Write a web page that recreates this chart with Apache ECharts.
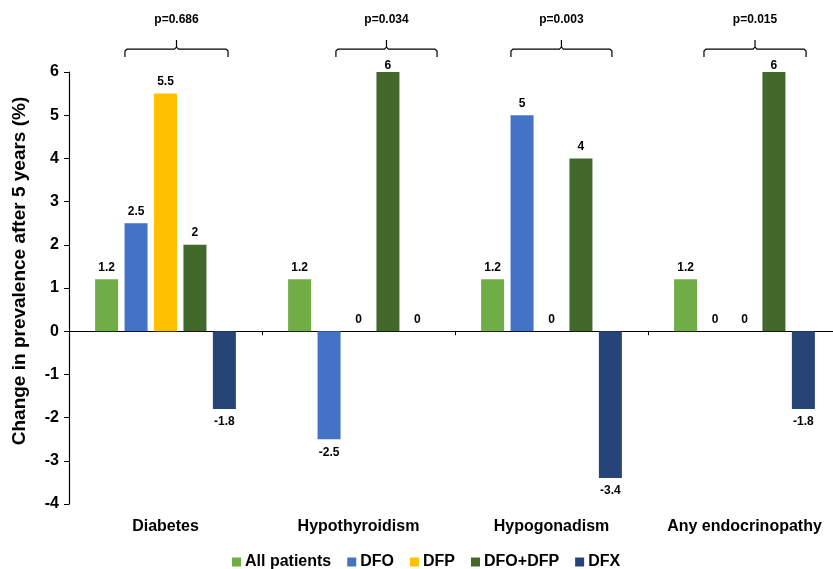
<!DOCTYPE html>
<html>
<head>
<meta charset="utf-8">
<script src="https://cdn.jsdelivr.net/npm/echarts@6/dist/echarts.min.js"></script>
<style>html,body{margin:0;padding:0;background:#fff}#c{width:833px;height:569px}</style>
</head>
<body>
<div id="c"></div>
<script>
const categories = ['Diabetes', 'Hypothyroidism', 'Hypogonadism', 'Any endocrinopathy'];
const seriesNames = ['All patients', 'DFO', 'DFP', 'DFO+DFP', 'DFX'];
const allPatients = [1.2, 1.2, 1.2, 1.2];
const dfo = [2.5, -2.5, 5, 0];
const dfp = [5.5, 0, 0, 0];
const dfoDfp = [2, 6, 4, 6];
const dfx = [-1.8, 0, -3.4, -1.8];
const pValues = ['p=0.686', 'p=0.034', 'p=0.003', 'p=0.015'];
const yTicks = [-4, -3, -2, -1, 0, 1, 2, 3, 4, 5, 6];

const colors = ['#70AD47', '#4472C4', '#FFC000', '#43682B', '#264478'];
const values = [allPatients, dfo, dfp, dfoDfp, dfx];
const FONT = '"Liberation Sans", Arial, sans-serif';
const yMax = yTicks[yTicks.length - 1];

// bracket extents relative to category centre, in category-width units (annotation styling)
const bracketLeft = [-0.21, -0.117, -0.21, -0.21];
const bracketRight = [0.324, 0.407, 0.313, 0.319];

const chart = echarts.init(document.getElementById('c'));

const barSeries = seriesNames.map((name, si) => ({
  name: name,
  type: 'bar',
  xAxisIndex: 0,
  barWidth: 23,
  barGap: '28%',
  itemStyle: { color: colors[si] },
  label: {
    show: true,
    fontFamily: FONT,
    fontWeight: 'bold',
    fontSize: 12,
    color: '#000',
    distance: 6
  },
  data: values[si].map(v => ({
    value: v,
    label: { position: v < 0 ? 'bottom' : 'top', distance: v < 0 ? 7 : (v >= yMax ? 0 : 6) }
  }))
}));

const bracketSeries = {
  type: 'custom',
  silent: true,
  clip: false,
  xAxisIndex: 0,
  z: 10,
  data: categories.map((c, i) => [i, i]),
  encode: { x: 0, y: 1 },
  renderItem: function (params, api) {
    const i = api.value(0);
    const centre = api.coord([i, 0]);
    const bw = api.size([1, 0])[0];
    const x1 = centre[0] + bracketLeft[i] * bw;
    const x2 = centre[0] + bracketRight[i] * bw;
    const cx = (x1 + x2) / 2;
    const yH = api.coord([i, 6.53])[1];
    const yEnd = api.coord([i, 6.35])[1];
    const yTip = api.coord([i, 6.74])[1];
    const yText = api.coord([i, 7.2])[1];
    return {
      type: 'group',
      children: [
        {
          type: 'polyline',
          shape: {
            points: [[x1, yEnd], [x1, yH + 2], [x1 + 2, yH], [cx - 2, yH], [cx, yH - 2], [cx, yTip],
                     [cx, yH - 2], [cx + 2, yH], [x2 - 2, yH], [x2, yH + 2], [x2, yEnd]]
          },
          style: { stroke: '#000', lineWidth: 1.2, fill: null }
        },
        {
          type: 'text',
          x: cx,
          y: yText,
          style: {
            text: pValues[i],
            fill: '#000',
            font: 'bold 12px ' + FONT,
            align: 'center',
            verticalAlign: 'middle'
          }
        }
      ]
    };
  }
};

chart.setOption({
  animation: false,
  backgroundColor: '#fff',
  grid: { left: 69, top: 72, right: -8, height: 432, outerBoundsMode: 'none', containLabel: false },
  legend: {
    top: 554,
    left: 232,
    padding: 0,
    data: seriesNames,
    itemWidth: 9,
    itemHeight: 9,
    itemGap: 16,
    icon: 'rect',
    textStyle: { fontFamily: FONT, fontWeight: 'bold', fontSize: 16, color: '#000', padding: [0, 0, 0, -1] }
  },
  xAxis: [
    {
      type: 'category',
      data: categories,
      axisLine: { onZero: true, lineStyle: { color: '#000', width: 1.2 } },
      axisTick: { show: true, length: 4, lineStyle: { color: '#000' } },
      axisLabel: { show: false }
    },
    {
      type: 'category',
      data: categories,
      position: 'bottom',
      axisLine: { show: false, onZero: false },
      axisTick: { show: false },
      axisLabel: { interval: 0, margin: 15, fontFamily: FONT, fontWeight: 'bold', fontSize: 16, color: '#000' }
    }
  ],
  yAxis: {
    type: 'value',
    min: yTicks[0],
    max: yMax,
    interval: 1,
    name: 'Change in prevalence after 5 years (%)',
    nameLocation: 'middle',
    nameGap: 40,
    nameTextStyle: { fontFamily: FONT, fontWeight: 'bold', fontSize: 19, color: '#000', padding: [0, 0, 0, 34] },
    axisLine: { show: true, lineStyle: { color: '#000', width: 1.2 } },
    axisTick: { show: true, length: 5, lineStyle: { color: '#000' } },
    splitLine: { show: false },
    axisLabel: { margin: 10, fontFamily: FONT, fontWeight: 'bold', fontSize: 16, color: '#000' }
  },
  series: barSeries.concat([bracketSeries])
});
</script>
</body>
</html>
